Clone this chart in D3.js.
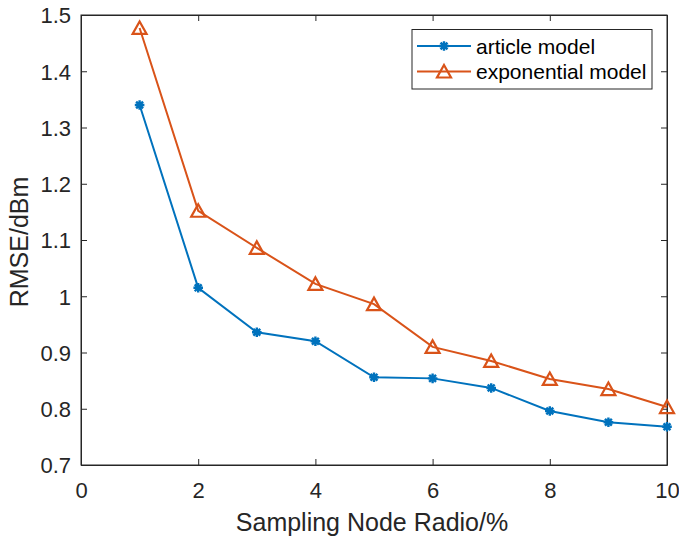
<!DOCTYPE html>
<html><head><meta charset="utf-8">
<script src="https://cdn.jsdelivr.net/npm/d3@7"></script>
<style>body{margin:0;background:#fff}svg{display:block;font-family:"Liberation Sans",Arial,Helvetica,sans-serif}</style>
</head><body><svg id="c" width="679" height="542"></svg>
<script>
const xValues = [1,2,3,4,5,6,7,8,9,10];
const articleModel = [1.340,1.015,0.936,0.920,0.856,0.854,0.837,0.796,0.776,0.768];
const exponentialModel = [1.477,1.152,1.086,1.022,0.986,0.910,0.885,0.853,0.835,0.803];
const xTicks = [0,2,4,6,8,10];
const yTicks = [0.7,0.8,0.9,1.0,1.1,1.2,1.3,1.4,1.5];
const seriesNames = ["article model","exponential model"];
const colors = ["#0072BD","#D95319"];

const svg = d3.select("#c");
const L=81, R=667, T=15, B=465;
const x = d3.scaleLinear().domain([0,10]).range([L,R]);
const y = d3.scaleLinear().domain([0.7,1.5]).range([B,T]);
const axc = "#262626";
const tk = 6;

svg.append("rect").attr("x",L).attr("y",T).attr("width",R-L).attr("height",B-T)
  .attr("fill","none").attr("stroke",axc).attr("stroke-width",1);

const xb = svg.append("g").attr("transform",`translate(0,${B})`)
  .call(d3.axisBottom(x).tickValues(xTicks).tickSizeInner(-tk).tickSizeOuter(0).tickFormat(d3.format("d")));
const xt = svg.append("g").attr("transform",`translate(0,${T})`)
  .call(d3.axisTop(x).tickValues(xTicks).tickSizeInner(-tk).tickSizeOuter(0).tickFormat(""));
const yl = svg.append("g").attr("transform",`translate(${L},0)`)
  .call(d3.axisLeft(y).tickValues(yTicks).tickSizeInner(-tk).tickSizeOuter(0).tickFormat(d=>d===1?"1":d3.format(".1f")(d)));
const yr = svg.append("g").attr("transform",`translate(${R},0)`)
  .call(d3.axisRight(y).tickValues(yTicks).tickSizeInner(-tk).tickSizeOuter(0).tickFormat(""));
[xb,xt,yl,yr].forEach(g=>{
  g.select(".domain").attr("stroke",axc);
  g.selectAll(".tick line").attr("stroke",axc);
  g.selectAll("text").attr("fill",axc).style("font-size","22px");
});
xb.selectAll("text").attr("y",33).attr("dy",0);
yl.selectAll("text").attr("x",-10).attr("dy","0.36em");

svg.append("text").attr("x",(L+R)/2-2).attr("y",531).attr("text-anchor","middle")
  .attr("fill",axc).style("font-size","25px").text("Sampling Node Radio/%");
svg.append("text").attr("transform",`translate(28,242) rotate(-90)`).attr("text-anchor","middle")
  .attr("fill",axc).style("font-size","25px").text("RMSE/dBm");

function star(g,cx,cy,c){
  const r=4.8, d=r*0.72;
  g.append("path").attr("d",`M${cx-r},${cy}L${cx+r},${cy}M${cx},${cy-r}L${cx},${cy+r}M${cx-d},${cy-d}L${cx+d},${cy+d}M${cx-d},${cy+d}L${cx+d},${cy-d}`)
   .attr("stroke",c).attr("stroke-width",2.4).attr("fill","none");
}
function tri(g,cx,cy,c){
  const s=7;
  g.append("path").attr("d",`M${cx},${cy-6.5}L${cx+s},${cy+6}L${cx-s},${cy+6}Z`)
   .attr("stroke",c).attr("stroke-width",2.2).attr("fill","none").attr("stroke-linejoin","miter");
}

const line = d3.line().x((d,i)=>x(xValues[i])).y(d=>y(d));
const data=[articleModel,exponentialModel];
data.forEach((s,k)=>{
  svg.append("path").datum(s).attr("d",line).attr("fill","none").attr("stroke",colors[k]).attr("stroke-width",2);
  const g=svg.append("g");
  s.forEach((v,i)=>{ (k===0?star:tri)(g,x(xValues[i]),y(v),colors[k]); });
});

svg.append("rect").attr("x",412).attr("y",29.5).attr("width",240).attr("height",59.5)
  .attr("fill","#fff").attr("stroke",axc).attr("stroke-width",1);
seriesNames.forEach((n,k)=>{
  const ly = k===0?46:71.5;
  svg.append("line").attr("x1",417).attr("x2",471).attr("y1",ly).attr("y2",ly).attr("stroke",colors[k]).attr("stroke-width",2);
  (k===0?star:tri)(svg,444,ly,colors[k]);
  svg.append("text").attr("x",476).attr("y",ly).attr("dy","0.36em").attr("fill","#000").style("font-size","21px").text(n);
});
</script></body></html>
